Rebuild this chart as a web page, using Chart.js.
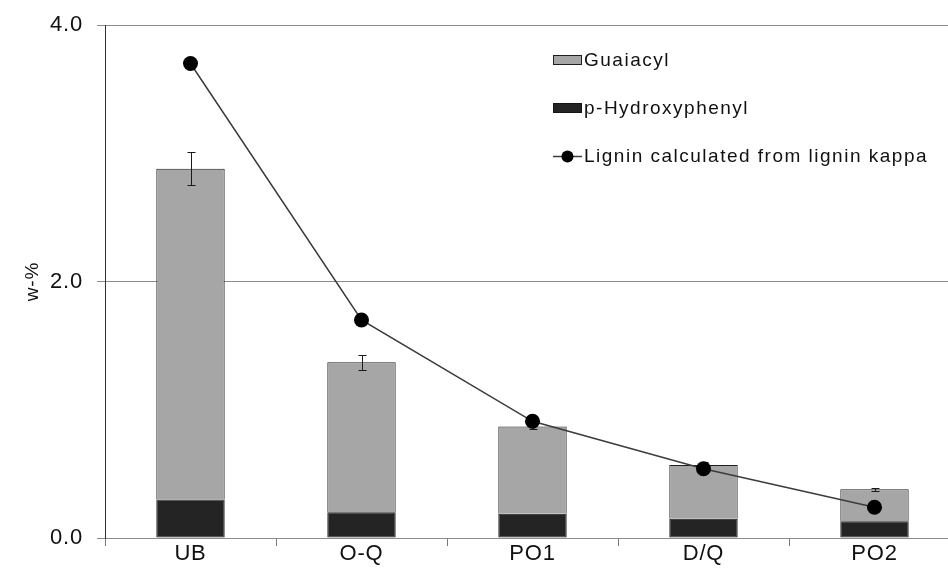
<!DOCTYPE html>
<html>
<head>
<meta charset="utf-8">
<script src="https://cdn.jsdelivr.net/npm/chart.js@4.4.1/dist/chart.umd.min.js"></script>
<style>
  html, body { margin: 0; padding: 0; overflow: hidden; background: #fff; }
  #wrap { width: 968px; height: 577px; }
</style>
</head>
<body>
<div id="wrap"><canvas id="c" width="968" height="577"></canvas></div>
<script>
// Lignin content by bleaching stage (w-%)
const categories = ['UB', 'O-Q', 'PO1', 'D/Q', 'PO2'];
const pHydroxyphenyl = [0.30, 0.20, 0.19, 0.15, 0.13];
const guaiacyl = [2.58, 1.17, 0.68, 0.42, 0.25];
// standard deviation of the total (guaiacyl + p-hydroxyphenyl)
const totalError = [0.13, 0.06, 0.02, 0.02, 0.01];
const ligninKappa = [3.70, 1.70, 0.91, 0.54, 0.24];
const yTicks = [0, 2, 4];

const FONT = '"Liberation Sans", Arial, sans-serif';
const TEXT = '#111111';

// slightly wider glyph spacing for all chart text
const spacing = {
  id: 'spacing',
  beforeLayout(chart) { chart.ctx.letterSpacing = '0.8px'; },
  beforeDraw(chart) { chart.ctx.letterSpacing = '0.8px'; }
};

// error bars on top of the stacked columns
const errorBars = {
  id: 'errorBars',
  afterDatasetDraw(chart, args) {
    if (chart.data.datasets[args.index].label !== 'Guaiacyl') return;
    const y = chart.scales.y;
    const ctx = chart.ctx;
    ctx.save();
    ctx.strokeStyle = '#1a1a1a';
    ctx.lineWidth = 1;
    args.meta.data.forEach((bar, i) => {
      const total = guaiacyl[i] + pHydroxyphenyl[i];
      const x = Math.round(bar.x) + 0.5;
      const yt = Math.round(y.getPixelForValue(total + totalError[i])) + 0.5;
      const yb = Math.round(y.getPixelForValue(total - totalError[i])) + 0.5;
      ctx.beginPath();
      ctx.moveTo(x, yt); ctx.lineTo(x, yb);
      ctx.moveTo(x - 4, yt); ctx.lineTo(x + 4, yt);
      ctx.moveTo(x - 4, yb); ctx.lineTo(x + 4, yb);
      ctx.stroke();
    });
    ctx.restore();
  }
};

// legend stacked vertically inside the plot area
const legendBox = {
  id: 'legendBox',
  afterDraw(chart) {
    const ctx = chart.ctx;
    const ds = chart.data.datasets;
    const order = ['Guaiacyl', 'p-Hydroxyphenyl', 'Lignin calculated from lignin kappa'];
    const rows = [60, 108, 156];
    const x0 = 553, w = 29;
    ctx.save();
    ctx.font = '19px ' + FONT;
    ctx.letterSpacing = '1.5px';
    ctx.textBaseline = 'middle';
    order.forEach((name, k) => {
      const d = ds.find(e => e.label === name);
      const cy = rows[k];
      if (d.type === 'line') {
        ctx.strokeStyle = d.borderColor;
        ctx.lineWidth = d.borderWidth;
        ctx.beginPath();
        ctx.moveTo(x0, cy + 0.5); ctx.lineTo(x0 + w, cy + 0.5);
        ctx.stroke();
        ctx.fillStyle = d.pointBackgroundColor;
        ctx.beginPath();
        ctx.arc(x0 + w / 2, cy + 0.5, 6, 0, Math.PI * 2);
        ctx.fill();
      } else {
        ctx.fillStyle = d.backgroundColor;
        ctx.fillRect(x0, cy - 5, w, 10);
        ctx.strokeStyle = d.borderColor;
        ctx.lineWidth = 1;
        ctx.strokeRect(x0 + 0.5, cy - 4.5, w - 1, 9);
      }
      ctx.fillStyle = TEXT;
      ctx.fillText(d.label, x0 + w + 2, cy + 1);
    });
    ctx.restore();
  }
};

new Chart(document.getElementById('c'), {
  data: {
    labels: categories,
    datasets: [
      {
        type: 'line',
        label: 'Lignin calculated from lignin kappa',
        data: ligninKappa,
        borderColor: '#3c3c3c',
        borderWidth: 1.5,
        pointRadius: 7.5,
        pointBackgroundColor: '#000',
        pointBorderColor: '#000',
        pointBorderWidth: 0,
        tension: 0,
        order: 0,
        stack: 'kappa'
      },
      {
        type: 'bar',
        label: 'p-Hydroxyphenyl',
        data: pHydroxyphenyl,
        backgroundColor: '#242424',
        borderColor: '#151515',
        borderWidth: 1,
        borderSkipped: false,
        barPercentage: 0.4,
        categoryPercentage: 1.0,
        order: 1,
        stack: 'lignin'
      },
      {
        type: 'bar',
        label: 'Guaiacyl',
        data: guaiacyl,
        backgroundColor: '#a6a6a6',
        borderColor: '#1e1e1e',
        borderWidth: 1,
        borderSkipped: 'start',
        barPercentage: 0.4,
        categoryPercentage: 1.0,
        order: 2,
        stack: 'lignin'
      }
    ]
  },
  options: {
    responsive: false,
    animation: false,
    layout: { padding: { top: 24, right: 8, bottom: 0, left: 0 } },
    plugins: {
      legend: { display: false },
      title: { display: false },
      tooltip: { enabled: false }
    },
    scales: {
      x: {
        stacked: true,
        offset: true,
        grid: { offset: true, drawOnChartArea: false, color: '#7a7a7a', tickLength: 8 },
        border: { color: '#8c8c8c', width: 1 },
        ticks: {
          color: TEXT,
          font: { family: FONT, size: 22, lineHeight: 1 },
          padding: -3,
          maxRotation: 0
        },
        afterFit(s) { s.height = 39; }
      },
      y: {
        stacked: true,
        min: 0,
        max: 4,
        grid: { color: '#8c8c8c', tickLength: 8 },
        border: { color: '#333333', width: 1 },
        ticks: {
          color: TEXT,
          font: { family: FONT, size: 22, lineHeight: 1 },
          padding: 14,
          callback: v => Number(v).toFixed(1)
        },
        afterBuildTicks(s) { s.ticks = yTicks.map(v => ({ value: v })); },
        afterFit(s) { s.width = 105; },
        title: {
          display: true,
          text: 'w-%',
          color: TEXT,
          font: { family: FONT, size: 19 },
          padding: { top: 21, bottom: 0 }
        }
      }
    }
  },
  plugins: [spacing, errorBars, legendBox]
});
</script>
</body>
</html>
